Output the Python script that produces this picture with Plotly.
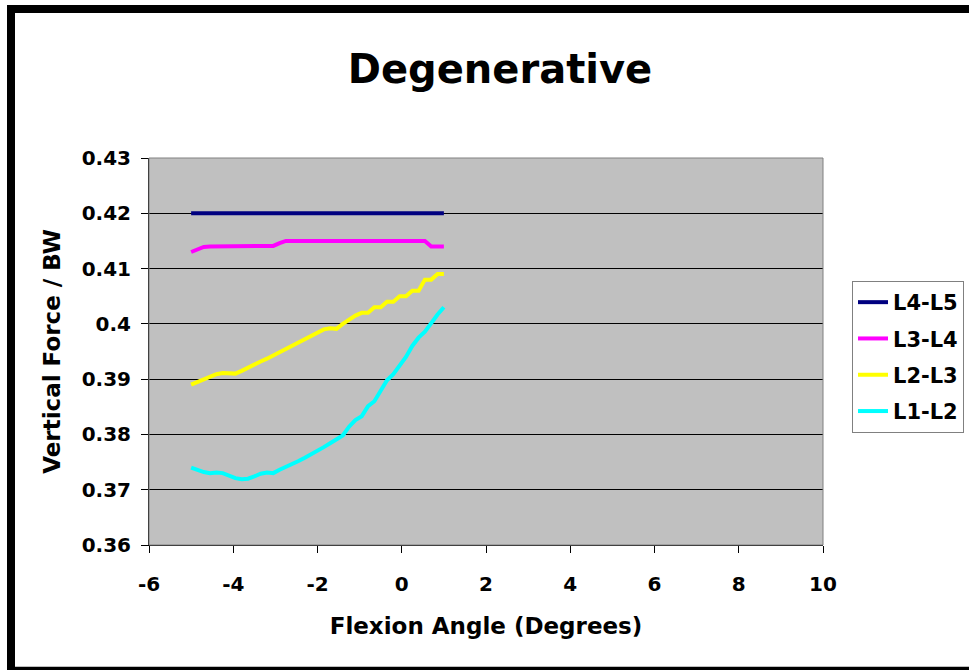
import plotly.graph_objects as go

# ---------------- data ----------------
angle = [-5.0, -4.85, -4.7, -4.55, -4.4, -4.25, -4.1, -3.95, -3.8, -3.65,
         -3.5, -3.35, -3.2, -3.05, -2.9, -2.75, -2.6, -2.45, -2.3, -2.15,
         -2.0, -1.85, -1.7, -1.55, -1.4, -1.25, -1.1, -0.95, -0.8, -0.65,
         -0.5, -0.35, -0.2, -0.05, 0.1, 0.25, 0.4, 0.55, 0.7, 0.85, 1.0]

l4_l5 = [0.42, 0.42, 0.42, 0.42, 0.42, 0.42, 0.42, 0.42, 0.42, 0.42,
         0.42, 0.42, 0.42, 0.42, 0.42, 0.42, 0.42, 0.42, 0.42, 0.42,
         0.42, 0.42, 0.42, 0.42, 0.42, 0.42, 0.42, 0.42, 0.42, 0.42,
         0.42, 0.42, 0.42, 0.42, 0.42, 0.42, 0.42, 0.42, 0.42, 0.42, 0.42]

l3_l4 = [0.413, 0.4135, 0.4139, 0.414, 0.414, 0.414, 0.414, 0.414, 0.414, 0.414,
         0.414, 0.414, 0.414, 0.4141, 0.4146, 0.415, 0.415, 0.415, 0.415, 0.415,
         0.415, 0.415, 0.415, 0.415, 0.415, 0.415, 0.415, 0.415, 0.415, 0.415,
         0.415, 0.415, 0.415, 0.415, 0.415, 0.415, 0.415, 0.415, 0.414, 0.414, 0.414]

l2_l3 = [0.389, 0.3895, 0.3899, 0.3904, 0.3909, 0.3911, 0.3911, 0.391, 0.3915, 0.3921,
         0.3926, 0.3932, 0.3937, 0.3943, 0.3949, 0.3954, 0.396, 0.3966, 0.3972, 0.3978,
         0.3984, 0.399, 0.3992, 0.3991, 0.4, 0.4008, 0.4015, 0.402, 0.402, 0.403,
         0.403, 0.404, 0.404, 0.405, 0.405, 0.406, 0.406, 0.408, 0.408, 0.409, 0.409]

l1_l2 = [0.374, 0.3736, 0.3732, 0.373, 0.3731, 0.373, 0.3725, 0.3721, 0.3719, 0.372,
         0.3724, 0.3729, 0.3731, 0.373, 0.3736, 0.3741, 0.3747, 0.3752, 0.3758, 0.3764,
         0.3769, 0.3777, 0.3784, 0.3791, 0.3798, 0.3814, 0.3826, 0.3833, 0.3851, 0.386,
         0.3878, 0.3898, 0.3909, 0.3924, 0.394, 0.396, 0.3975, 0.3986, 0.4003, 0.4017, 0.403]

series_names = ["L4-L5", "L3-L4", "L2-L3", "L1-L2"]
series_values = [l4_l5, l3_l4, l2_l3, l1_l2]
series_colors = ["#000080", "#FF00FF", "#FFFF00", "#00FFFF"]

x_ticks = [-6, -4, -2, 0, 2, 4, 6, 8, 10]
x_tick_labels = ["-6", "-4", "-2", "0", "2", "4", "6", "8", "10"]
y_ticks = [0.36, 0.37, 0.38, 0.39, 0.40, 0.41, 0.42, 0.43]
y_tick_labels = ["0.36", "0.37", "0.38", "0.39", "0.4", "0.41", "0.42", "0.43"]

# ---------------- layout geometry (pixels) ----------------
W, H = 969, 670
PL, PR, PT, PB = 149, 823, 158, 545   # plot area edges


def px_x(p):
    return (p - PL) / (PR - PL)


def px_y(p):
    return (PB - p) / (PB - PT)


FONT = "DejaVu Sans"

fig = go.Figure()
for name, vals, col in zip(series_names, series_values, series_colors):
    fig.add_trace(go.Scatter(
        x=angle, y=vals, name=name, mode="lines",
        legendgroup=name,
        line=dict(color=col, width=4),
    ))

shapes = [
    # grey plot-area frame (top / right edges)
    dict(type="rect", xref="paper", yref="paper", x0=0, x1=1, y0=0, y1=1,
         line=dict(color="#808080", width=1), fillcolor="rgba(0,0,0,0)", layer="above"),
    # thick black outer chart border
    dict(type="line", xref="paper", yref="paper",
         x0=px_x(11), x1=px_x(1000), y0=px_y(9), y1=px_y(9),
         line=dict(color="black", width=8)),
    dict(type="line", xref="paper", yref="paper",
         x0=px_x(11), x1=px_x(11), y0=px_y(5), y1=px_y(700),
         line=dict(color="black", width=8)),
    dict(type="line", xref="paper", yref="paper",
         x0=px_x(7), x1=px_x(1000), y0=px_y(670.7), y1=px_y(670.7),
         line=dict(color="black", width=8)),
]

fig.update_layout(
    width=W, height=H,
    margin=dict(l=PL, r=W - PR, t=PT, b=H - PB, autoexpand=False),
    paper_bgcolor="white",
    plot_bgcolor="#C0C0C0",
    font=dict(family=FONT, color="black", weight="bold", size=20),
    title=dict(text="Degenerative", x=500 / W, xref="container", xanchor="center",
               y=1 - 69 / H, yref="container", yanchor="middle",
               font=dict(size=40, family=FONT, weight="bold", color="black")),
    xaxis=dict(
        range=[-6, 10], tickvals=x_ticks, ticktext=x_tick_labels,
        showgrid=False, zeroline=False,
        showline=True, linecolor="black", linewidth=1,
        ticks="outside", ticklen=7, tickcolor="black", tickwidth=1,
        ticklabelstandoff=14,
        tickfont=dict(size=20, family=FONT, weight="bold"),
        title=dict(text="Flexion Angle (Degrees)", standoff=22,
                   font=dict(size=23, family=FONT, weight="bold")),
        automargin=False,
    ),
    yaxis=dict(
        range=[0.36, 0.43], tickvals=y_ticks, ticktext=y_tick_labels,
        showgrid=True, gridcolor="black", gridwidth=1, zeroline=False,
        showline=True, linecolor="black", linewidth=1,
        ticks="outside", ticklen=7, tickcolor="black", tickwidth=1,
        ticklabelstandoff=6,
        tickfont=dict(size=20, family=FONT, weight="bold"),
        title=dict(text="Vertical Force / BW", standoff=14,
                   font=dict(size=23, family=FONT, weight="bold")),
        automargin=False,
    ),
    legend=dict(
        x=px_x(852), y=px_y(281), xanchor="left", yanchor="top",
        xref="paper", yref="paper",
        bgcolor="white", bordercolor="#808080", borderwidth=1,
        font=dict(size=21, family=FONT, weight="bold", color="black"),
        tracegroupgap=6, traceorder="grouped",
        itemwidth=30,
    ),
    shapes=shapes,
    showlegend=True,
)

fig.write_html("out.html")
